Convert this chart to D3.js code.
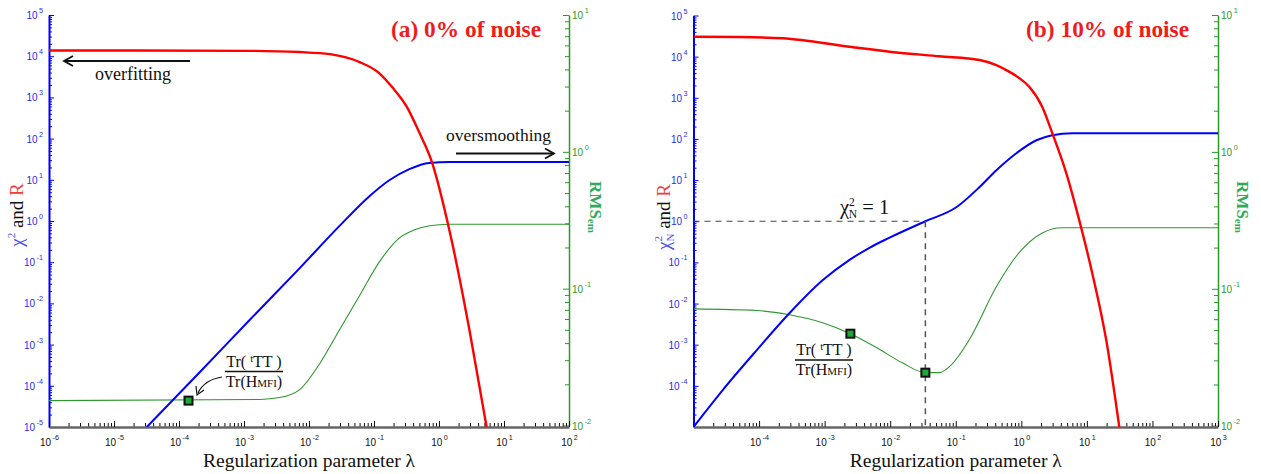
<!DOCTYPE html>
<html><head><meta charset="utf-8">
<script src="https://cdn.jsdelivr.net/npm/d3@7"></script>
<style>
body{margin:0;background:#fff}
svg{display:block}
.tick text{font-family:"Liberation Sans",Arial,sans-serif}
.serif{font-family:"Liberation Serif","Times New Roman",serif}
</style>
</head><body>
<svg id="c" width="1261" height="474"></svg>
<script>
// ---------------- DATA ----------------
// Panel (a): 0% noise
const xTickExpA = [-6,-5,-4,-3,-2,-1,0,1,2];
const yLeftTickExpA = [-5,-4,-3,-2,-1,0,1,2,3,4,5];
const yRightTickExp = [-2,-1,0,1];
const lambdaA_R = [1e-6, 1.2e-3, 7.2e-3, 2.1e-2, 6.0e-2, 0.12, 0.19, 0.32, 0.50, 0.76, 1.5, 2.95, 5.4];
const R_A       = [1.38e4, 1.35e4, 1.26e4, 1.12e4, 7.2e3, 3.9e3, 1.78e3, 590, 138, 30, 0.46, 2.2e-3, 1e-5];
const lambdaA_chi = [3.2e-5, 2.1e-4, 1.23e-3, 7.2e-3, 2.95e-2, 8.5e-2, 0.174, 0.35, 0.71, 1.45, 100];
const chi2_A      = [1e-5, 2.16e-4, 4.0e-3, 7.2e-2, 0.76, 4.0, 9.9, 18.2, 25.7, 26.9, 26.9];
const lambdaA_rms = [1e-6, 1.74e-3, 3.53e-3, 7.2e-3, 1.46e-2, 2.95e-2, 5.98e-2, 0.121, 0.247, 0.419, 0.713, 1.45, 100];
const rms_A       = [0.0152, 0.0155, 0.0160, 0.0183, 0.0283, 0.0501, 0.0887, 0.157, 0.235, 0.269, 0.288, 0.296, 0.296];
const markerLambdaA = [1.4e-4];
const markerRmsA    = [0.0152];

// Panel (b): 10% noise
const xTickExpB = [-4,-3,-2,-1,0,1,2,3];
const yLeftTickExpB = [-4,-3,-2,-1,0,1,2,3,4,5];
const lambdaB_R = [1e-5, 5.0e-5, 2.3e-4, 2.4e-3, 9.8e-3, 5.6e-2, 0.23, 0.416, 0.66, 0.933, 1.32, 2.09, 2.97, 4.85, 7.66, 12.1, 19.8, 31.2];
const R_B       = [3.05e4, 3.0e4, 2.79e4, 1.74e4, 1.32e4, 1.02e4, 8.3e3, 6.25e3, 4.27e3, 3.01e3, 1.86e3, 600, 138, 14.8, 1.05, 0.054, 1.26e-3, 1e-5];
const lambdaB_chi = [1e-5, 2.77e-5, 9.1e-5, 2.9e-4, 9.3e-4, 2.4e-3, 4.9e-3, 9.8e-3, 3.44e-2, 0.102, 0.229, 0.417, 0.84, 1.7, 2.97, 6.0, 1000];
const chi2_B      = [1e-5, 7.8e-5, 7.2e-4, 5.8e-3, 3.67e-2, 0.115, 0.23, 0.40, 1.0, 2.19, 6.7, 17.4, 45, 93, 123, 138, 138];
const lambdaB_rms = [1e-5, 9.1e-5, 2.9e-4, 9.3e-4, 2.47e-3, 6.2e-3, 1.53e-2, 3.44e-2, 5.6e-2, 8.0e-2, 0.161, 0.416, 0.92, 2.09, 4.2, 1000];
const rms_B       = [0.0714, 0.0695, 0.0646, 0.0565, 0.047, 0.0372, 0.0288, 0.0244, 0.0244, 0.027, 0.0425, 0.1035, 0.183, 0.256, 0.279, 0.279];
const markerLambdaB = [2.47e-3, 3.44e-2];
const markerRmsB    = [0.047, 0.0244];
const chiN1Lambda = 3.44e-2;
const chiN1Value = 1;

// ---------------- DRAWING ----------------
const svg = d3.select('#c');
const BLUE = '#0000ff', RED = '#ff0000', GREEN_LINE = '#2f962f', GREEN_AX = '#2a9a2a';

function minorTicks(lo, hi) {
  const out = [];
  for (let e = lo; e < hi; e++) for (let m = 2; m <= 9; m++) out.push(m * Math.pow(10, e));
  return out;
}
function supLabels(sel, color, size) {
  sel.each(function(d) {
    const e = Math.round(Math.log10(d));
    const t = d3.select(this);
    t.text(null).attr('fill', color).style('font-size', size + 'px');
    t.append('tspan').text('10');
    t.append('tspan').attr('dx', 1.5).attr('dy', -size * 0.6).style('font-size', (size * 0.72) + 'px').text(e);
  });
}

function panel(cfg) {
  const x = d3.scaleLog().domain(cfg.xDom).range([cfg.x0, cfg.x1]);
  const yL = d3.scaleLog().domain([1e-5, 1e5]).range([cfg.y1, cfg.y0]);
  const yR = d3.scaleLog().domain([1e-2, 1e1]).range([cfg.yR1, cfg.yR0]);
  const g = svg.append('g');
  const clipId = 'clip' + cfg.id;
  g.append('clipPath').attr('id', clipId).append('rect')
    .attr('x', cfg.x0).attr('y', cfg.y0 - 2).attr('width', cfg.x1 - cfg.x0).attr('height', cfg.y1 - cfg.y0 + 2);

  // left (blue)
  const lMinor = g.append('g').attr('transform', `translate(${cfg.x0},0)`)
    .call(d3.axisLeft(yL).tickValues(minorTicks(-5, 5)).tickSizeInner(-3).tickSizeOuter(0).tickFormat(() => ''));
  lMinor.select('.domain').remove();
  lMinor.selectAll('line').attr('stroke', BLUE);
  const lMaj = g.append('g').attr('transform', `translate(${cfg.x0},0)`)
    .call(d3.axisLeft(yL).tickValues(cfg.yLeftExp.map(e => Math.pow(10, e))).tickSizeInner(-5).tickSizeOuter(0).tickPadding(6));
  lMaj.select('.domain').attr('stroke', BLUE).attr('stroke-width', 2);
  lMaj.selectAll('line').attr('stroke', BLUE);
  lMaj.selectAll('text').attr('dy', '0.35em').call(supLabels, '#2a2af0', 10);

  // right (green)
  const rMinor = g.append('g').attr('transform', `translate(${cfg.x1},0)`)
    .call(d3.axisRight(yR).tickValues(minorTicks(-2, 1)).tickSizeInner(-4).tickSizeOuter(0).tickFormat(() => ''));
  rMinor.select('.domain').remove();
  rMinor.selectAll('line').attr('stroke', GREEN_AX);
  const rMaj = g.append('g').attr('transform', `translate(${cfg.x1},0)`)
    .call(d3.axisRight(yR).tickValues(yRightTickExp.map(e => Math.pow(10, e))).tickSizeInner(-6).tickSizeOuter(0).tickPadding(3));
  rMaj.select('.domain').attr('stroke', GREEN_AX).attr('stroke-width', 1.5);
  rMaj.selectAll('line').attr('stroke', GREEN_AX);
  rMaj.selectAll('text').attr('dy', '0.35em').call(supLabels, GREEN_AX, 10);

  // bottom
  const lx = Math.log10(cfg.xDom[0]), hx = Math.log10(cfg.xDom[1]);
  const bMinor = g.append('g').attr('transform', `translate(0,${cfg.y1})`)
    .call(d3.axisBottom(x).tickValues(minorTicks(lx, hx)).tickSizeInner(-4).tickSizeOuter(0).tickFormat(() => ''));
  bMinor.select('.domain').remove();
  bMinor.selectAll('line').attr('stroke', '#111');
  const bMaj = g.append('g').attr('transform', `translate(0,${cfg.y1})`)
    .call(d3.axisBottom(x).tickValues(cfg.xExp.map(e => Math.pow(10, e))).tickSizeInner(-6).tickSizeOuter(0).tickPadding(12));
  bMaj.select('.domain').attr('stroke', '#666').attr('stroke-width', 2.5);
  bMaj.selectAll('line').attr('stroke', '#111');
  bMaj.selectAll('text').call(supLabels, '#111', 10);

  // curves
  const cg = g.append('g').attr('clip-path', `url(#${clipId})`);
  const lineL = d3.line().x(d => x(d[0])).y(d => yL(d[1])).curve(d3.curveMonotoneX);
  const lineR = d3.line().x(d => x(d[0])).y(d => yR(d[1])).curve(d3.curveMonotoneX);
  cg.append('path').datum(d3.zip(cfg.lamRms, cfg.rms)).attr('d', lineR)
    .attr('fill', 'none').attr('stroke', GREEN_LINE).attr('stroke-width', 1.1);
  if (cfg.dash) {
    const px = x(chiN1Lambda), py = yL(chiN1Value);
    g.append('line').attr('x1', cfg.x0).attr('x2', px).attr('y1', py).attr('y2', py)
      .attr('stroke', '#444').attr('stroke-width', 1.2).attr('stroke-dasharray', '6,5');
    g.append('line').attr('x1', px).attr('x2', px).attr('y1', py).attr('y2', cfg.y1)
      .attr('stroke', '#555').attr('stroke-width', 1.5).attr('stroke-dasharray', '6,5');
  }
  cg.append('path').datum(d3.zip(cfg.lamChi, cfg.chi)).attr('d', lineL)
    .attr('fill', 'none').attr('stroke', BLUE).attr('stroke-width', 2);
  cg.append('path').datum(d3.zip(cfg.lamR, cfg.R)).attr('d', lineL)
    .attr('fill', 'none').attr('stroke', RED).attr('stroke-width', 2.4);

  // markers
  g.selectAll('rect.mk').data(d3.zip(cfg.mkLam, cfg.mkRms)).join('rect').attr('class', 'mk')
    .attr('x', d => x(d[0]) - 4).attr('y', d => yR(d[1]) - 4).attr('width', 8).attr('height', 8)
    .attr('fill', '#1fa83a').attr('stroke', '#111').attr('stroke-width', 2);

  // labels
  const cx = (cfg.x0 + cfg.x1) / 2;
  g.append('text').attr('class', 'serif').attr('x', cx).attr('y', 467).attr('text-anchor', 'middle')
    .attr('font-size', 19.5).attr('fill', '#111').text('Regularization parameter λ');

  g.append('text').attr('class', 'serif').attr('x', cfg.titleX).attr('y', 37)
    .attr('font-size', 23.4).attr('font-weight', 'bold').attr('fill', '#ee1c1c').text(cfg.title);

  const yl = g.append('text').attr('class', 'serif').attr('text-anchor', 'middle')
    .attr('transform', `translate(${cfg.yLabelX},${cfg.yLabelY}) rotate(-90)`).attr('font-size', 19);
  yl.append('tspan').attr('fill', '#4f4fe8').text('χ');
  yl.append('tspan').attr('fill', '#4f4fe8').attr('font-size', 11).attr('dy', -8).text('2');
  if (cfg.id === 'B') {
    yl.append('tspan').attr('fill', '#4f4fe8').attr('font-size', 11).attr('dx', -5.5).attr('dy', 12).text('N');
    yl.append('tspan').attr('fill', '#111').attr('dy', -4).text(' and ');
  } else {
    yl.append('tspan').attr('fill', '#111').attr('dy', 8).text(' and ');
  }
  yl.append('tspan').attr('fill', '#f03a3a').text('R');

  const rl = g.append('text').attr('class', 'serif').attr('text-anchor', 'middle')
    .attr('transform', `translate(${cfg.rmsX},207) rotate(90)`).attr('font-weight', 'bold').attr('fill', '#2eaa5a');
  rl.append('tspan').attr('font-size', 17).text('RMS');
  rl.append('tspan').attr('font-size', 11).attr('dy', 2).text('em');

  return {x, yL, yR, g};
}

panel({id: 'A', xDom: [1e-6, 1e2], x0: 49, x1: 569, y0: 15, y1: 427, yR0: 15, yR1: 425.5,
  xExp: xTickExpA, yLeftExp: yLeftTickExpA, lamR: lambdaA_R, R: R_A, lamChi: lambdaA_chi, chi: chi2_A,
  lamRms: lambdaA_rms, rms: rms_A, mkLam: markerLambdaA, mkRms: markerRmsA,
  title: '(a) 0% of noise', titleX: 391, yLabelX: 23, yLabelY: 215, rmsX: 590, dash: false});

panel({id: 'B', xDom: [1e-5, 1e3], x0: 693.5, x1: 1218, y0: 15.5, y1: 427, yR0: 15, yR1: 425.7,
  xExp: xTickExpB, yLeftExp: yLeftTickExpB, lamR: lambdaB_R, R: R_B, lamChi: lambdaB_chi, chi: chi2_B,
  lamRms: lambdaB_rms, rms: rms_B, mkLam: markerLambdaB, mkRms: markerRmsB,
  title: '(b) 10% of noise', titleX: 1026, yLabelX: 670, yLabelY: 217, rmsX: 1237, dash: true});

// ---------------- ANNOTATIONS ----------------
const ann = svg.append('g').attr('class', 'serif').attr('fill', '#111');
function arrow(x1, x2, y) {
  ann.append('line').attr('x1', x1).attr('x2', x2).attr('y1', y).attr('y2', y).attr('stroke', '#111').attr('stroke-width', 1.8);
  const s = x2 > x1 ? -1 : 1;
  ann.append('path').attr('d', `M${x2 + s * 9},${y - 5}L${x2},${y}L${x2 + s * 9},${y + 5}`)
    .attr('fill', 'none').attr('stroke', '#111').attr('stroke-width', 1.8);
}
arrow(190, 64, 61);
ann.append('text').attr('x', 95).attr('y', 80).attr('font-size', 18).text('overfitting');
arrow(456, 554, 153.5);
ann.append('text').attr('x', 446).attr('y', 141).attr('font-size', 17.5).text('oversmoothing');

function fraction(cx, lineY) {
  const n = ann.append('text').attr('x', cx).attr('y', lineY - 5).attr('text-anchor', 'middle').attr('font-size', 16);
  n.append('tspan').text('Tr( ');
  n.append('tspan').attr('font-size', 10.5).attr('dy', -5).text('t');
  n.append('tspan').attr('dy', 5).text('TT )');
  ann.append('line').attr('x1', cx - 29).attr('x2', cx + 29).attr('y1', lineY).attr('y2', lineY)
    .attr('stroke', '#111').attr('stroke-width', 1.3);
  const dn = ann.append('text').attr('x', cx).attr('y', lineY + 15).attr('text-anchor', 'middle').attr('font-size', 16);
  dn.append('tspan').text('Tr(H');
  dn.append('tspan').attr('font-size', 11).text('MFI');
  dn.append('tspan').text(')');
}
fraction(254, 371.5);
fraction(824, 360);
ann.append('path').attr('d', 'M222,377 Q204,380 198,393').attr('fill', 'none').attr('stroke', '#111').attr('stroke-width', 1.2);
ann.append('path').attr('d', 'M196,386 L197,395 L204,390').attr('fill', 'none').attr('stroke', '#111').attr('stroke-width', 1.2);

const cl = ann.append('text').attr('x', 840).attr('y', 214).attr('font-size', 20.5);
cl.append('tspan').text('χ');
cl.append('tspan').attr('font-size', 11.5).attr('dy', -8).text('2');
cl.append('tspan').attr('font-size', 11.5).attr('dx', -6).attr('dy', 12).text('N');
cl.append('tspan').attr('dy', -4).text(' = 1');
</script>
</body></html>
